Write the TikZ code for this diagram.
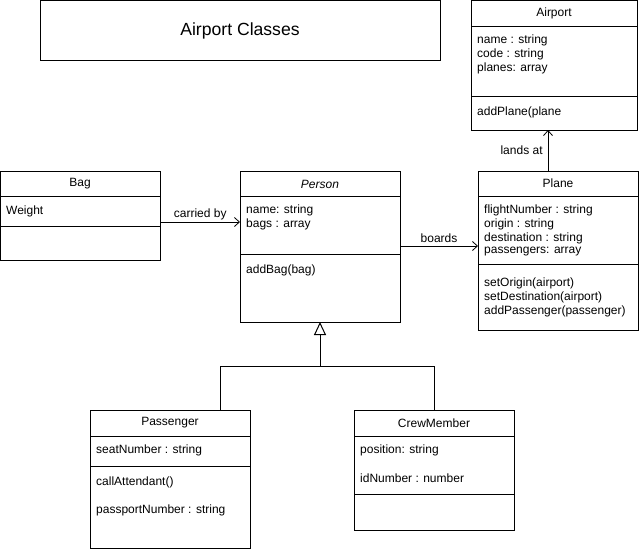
\documentclass[tikz,border=0pt]{standalone}
\usepackage{fontspec}
\setmainfont{Liberation Sans}
\usetikzlibrary{arrows.meta}
\begin{document}
\begin{tikzpicture}[x=1pt,y=-1pt,
  box/.style={draw, line width=1pt, rectangle, inner sep=0pt, outer sep=0pt, anchor=north west},
  txt/.style={font=\fontsize{12}{14}\selectfont, inner sep=0pt, anchor=west},
  ttl/.style={font=\fontsize{12}{14}\selectfont, inner sep=0pt},
  lbl/.style={font=\fontsize{12}{14}\selectfont, inner sep=0pt, fill=white},
  divider/.style={line width=1pt},
  assoc/.style={draw, line width=0.8pt, -{Straight Barb[length=5pt,width=9pt]}},
  gen/.style={draw, line width=1pt, -{Triangle[open,length=13pt,width=12pt]}},
  ]
\useasboundingbox (0,0) rectangle (640,549);

% title
\node[box, minimum width=400pt, minimum height=60pt, font=\fontsize{17.6}{20}\selectfont] (title) at (40,0.5) {Airport Classes};

% Airport
\node[box, minimum width=166pt, minimum height=129.5pt] (airport) at (471,0.5) {};
\node[ttl] (airportT) at (554,13) {Airport};
\draw[divider] (airport.west |- 0,26.5) -- (airport.east |- 0,26.5);
\draw[divider] (airport.west |- 0,96.5) -- (airport.east |- 0,96.5);
\node[txt] (a1) at (477,40) {name : string};
\node[txt] (a2) at (477,54) {code : string};
\node[txt] (a3) at (477,68) {planes: array};
\node[txt] (a4) at (477,112) {addPlane(plane};

% Bag
\node[box, minimum width=160pt, minimum height=89pt] (bag) at (0.5,171) {};
\node[ttl] (bagT) at (80,184) {Bag};
\draw[divider] (bag.west |- 0,196.5) -- (bag.east |- 0,196.5);
\draw[divider] (bag.west |- 0,226.5) -- (bag.east |- 0,226.5);
\node[txt] (b1) at (6,211) {Weight};

% Person
\node[box, minimum width=160pt, minimum height=151pt] (person) at (240,171) {};
\node[ttl, font=\fontsize{12}{14}\selectfont\itshape] (personT) at (320,184) {Person};
\draw[divider] (person.west |- 0,196.5) -- (person.east |- 0,196.5);
\draw[divider] (person.west |- 0,254.5) -- (person.east |- 0,254.5);
\node[txt] (p1) at (246,210) {name: string};
\node[txt] (p2) at (246,224) {bags : array};
\node[txt] (p3) at (246,270) {addBag(bag)};

% Plane
\node[box, minimum width=160pt, minimum height=159pt] (plane) at (478,171) {};
\node[ttl] (planeT) at (558,183) {Plane};
\draw[divider] (plane.west |- 0,196.5) -- (plane.east |- 0,196.5);
\draw[divider] (plane.west |- 0,264.5) -- (plane.east |- 0,264.5);
\node[txt] (l1) at (484,210) {flightNumber : string};
\node[txt] (l2) at (484,224) {origin : string};
\node[txt] (l3) at (484,238) {destination : string};
\node[txt] (l4) at (484,252) {passengers: array};
\node[txt] (l5) at (484,283) {setOrigin(airport)};
\node[txt] (l6) at (484,297) {setDestination(airport)};
\node[txt] (l7) at (484,311) {addPassenger(passenger)};

% Passenger
\node[box, minimum width=160pt, minimum height=138pt] (passenger) at (90,410) {};
\node[ttl] (passT) at (170,423) {Passenger};
\draw[divider] (passenger.west |- 0,436.5) -- (passenger.east |- 0,436.5);
\draw[divider] (passenger.west |- 0,466.5) -- (passenger.east |- 0,466.5);
\node[txt] (s1) at (96,450) {seatNumber : string};
\node[txt] (s2) at (96,482) {callAttendant()};
\node[txt] (s3) at (96,510) {passportNumber : string};

% CrewMember
\node[box, minimum width=160pt, minimum height=120pt] (crew) at (354,410) {};
\node[ttl] (crewT) at (434,423) {CrewMember};
\draw[divider] (crew.west |- 0,436.5) -- (crew.east |- 0,436.5);
\draw[divider] (crew.west |- 0,494.5) -- (crew.east |- 0,494.5);
\node[txt] (c1) at (360,450) {position: string};
\node[txt] (c2) at (360,478) {idNumber : number};

% associations
\draw[assoc] (bag.east |- 0,222) -- (person.west |- 0,222)
  node[midway, anchor=south, yshift=2pt, inner sep=0pt, font=\fontsize{12}{14}\selectfont] (cb) {carried by};
\draw[assoc] (person.east |- 0,246) -- (plane.west |- 0,246)
  node[midway, anchor=south, yshift=3pt, inner sep=0pt, font=\fontsize{12}{14}\selectfont] (bd) {boards};
\draw[assoc] (plane.north -| 548,0) -- (airport.south -| 548,0)
  node[midway, anchor=east, xshift=-5pt, inner sep=0pt, font=\fontsize{12}{14}\selectfont] (la) {lands at};

% generalization
\coordinate (j) at (320,366.5);
\coordinate (jl) at (220,366.5);
\coordinate (jr) at (434,366.5);
\draw[line width=1pt] (passenger.north -| jl) -- (jl) -- (jr) -- (crew.north);
\draw[gen] (j) -- (person.south);
\end{tikzpicture}
\end{document}
